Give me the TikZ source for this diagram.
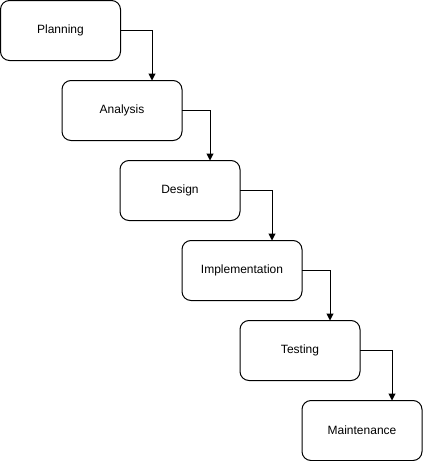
\documentclass[tikz,border=0pt]{standalone}
\usepackage{fontspec}
\setmainfont{Liberation Sans}
\usepackage{tikz}
\usetikzlibrary{
    positioning,
    arrows.meta
}
\tikzset{
    stagebox/.style={
        rectangle, draw, line width=1pt,
        minimum width=120pt, minimum height=60pt,
        outer sep=0pt, rounded corners=9pt,
        align=center, font=\fontsize{12}{14}\selectfont
    },
    flowarrow/.style={
        -{Triangle[length=7pt, width=7pt]}, line width=1pt, rounded corners=0pt
    }
}

\begin{document}
\begin{tikzpicture}[x=1pt, y=1pt]
	\useasboundingbox (0,0) rectangle (423,-461);

	% NODES
	\node (planning) [stagebox, anchor=north west] at (0.5,-0.5) {Planning};
	\node (analysis) [stagebox, below right=20pt and -58.5pt of planning] {Analysis};
	\node (design) [stagebox, below right=20pt and -62pt of analysis] {Design};
	\node (impl) [stagebox, below right=20pt and -58pt of design] {Implementation};
	\node (testing) [stagebox, below right=20pt and -62pt of impl] {Testing};
	\node (maint) [stagebox, below right=20pt and -58pt of testing] {Maintenance};

	% ARROWS
	\draw[flowarrow] (planning.east) -| (analysis.45);
	\draw[flowarrow] (analysis.east) -| (design.45);
	\draw[flowarrow] (design.east) -| (impl.45);
	\draw[flowarrow] (impl.east) -| (testing.45);
	\draw[flowarrow] (testing.east) -| (maint.45);

\end{tikzpicture}
\end{document}
